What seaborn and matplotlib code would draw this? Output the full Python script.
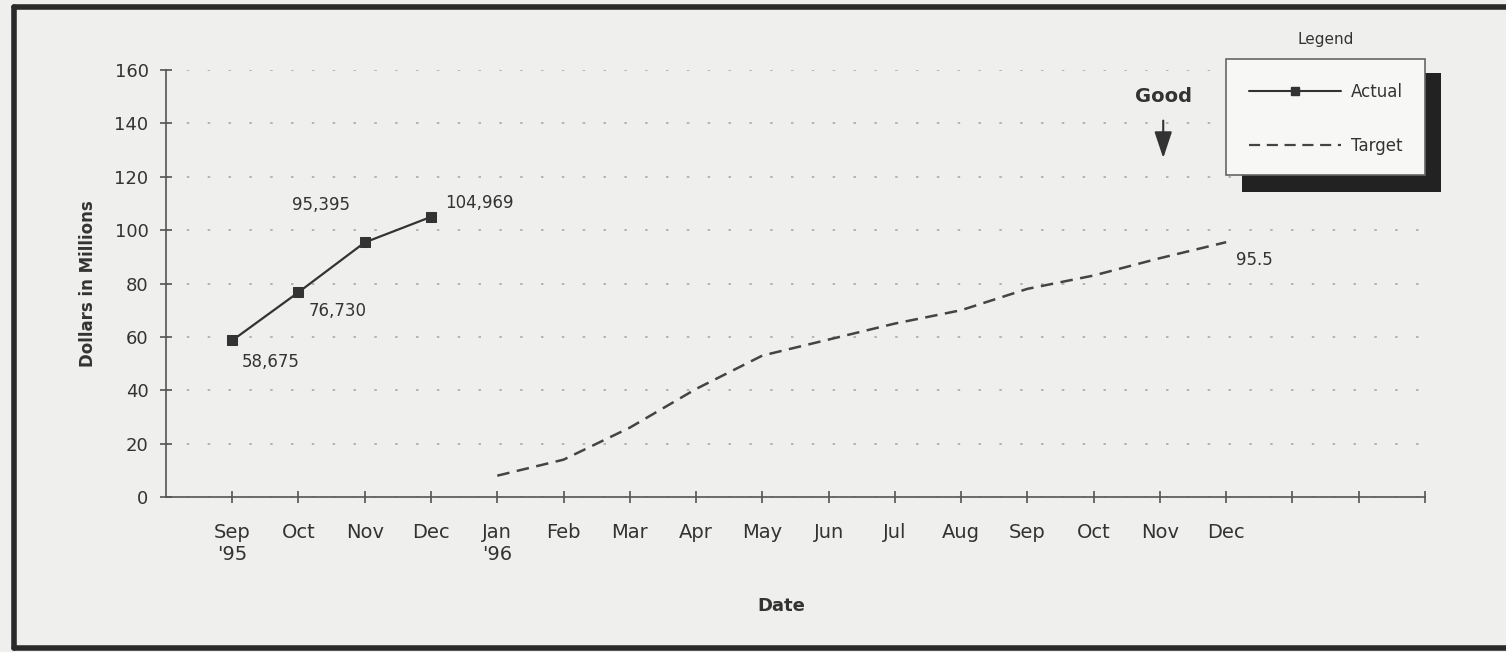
import matplotlib
matplotlib.use("Agg")
import matplotlib.pyplot as plt
import seaborn as sns
import pandas as pd
import numpy as np
from matplotlib.lines import Line2D
from matplotlib.patches import Rectangle

months = ["Sep\n'95", "Oct", "Nov", "Dec", "Jan\n'96", "Feb", "Mar", "Apr",
          "May", "Jun", "Jul", "Aug", "Sep", "Oct", "Nov", "Dec"]
n_slots = 19  # three empty ticks after the last month

actual = [58.675, 76.730, 95.395, 104.969]
actual_labels = ["58,675", "76,730", "95,395", "104,969"]
target = [8, 14, 26, 40.5, 53, 59, 65, 70, 78, 83, 89.5, 95.5]
target_start = 4  # target begins at Jan '96
yticks = [0, 20, 40, 60, 80, 100, 120, 140, 160]

df_actual = pd.DataFrame({"pos": np.arange(len(actual)), "value": actual})
df_target = pd.DataFrame({"pos": np.arange(len(target)) + target_start, "value": target})

bg = "#efefed"
ink = "#333333"

sns.set_style("white")
plt.rcParams["font.family"] = ["DejaVu Sans"]

fig = plt.figure(figsize=(15.06, 6.52), dpi=100, facecolor=bg)
ax = fig.add_axes([0.1102, 0.2377, 0.836, 0.6549], facecolor=bg)

sns.lineplot(data=df_actual, x="pos", y="value", ax=ax, color=ink, lw=1.6,
             marker="s", markersize=7, markeredgecolor=ink, legend=False)
sns.lineplot(data=df_target, x="pos", y="value", ax=ax, color="#444444", lw=1.8,
             linestyle=(0, (5, 3)), legend=False)

ax.set_xlim(-1, n_slots - 1)
ax.set_ylim(0, 160)
ax.set_yticks(yticks)
ax.set_xticks(np.arange(n_slots))
ax.set_xticklabels(months + [""] * (n_slots - len(months)))

for s in ["top", "right"]:
    ax.spines[s].set_visible(False)
for s in ["left", "bottom"]:
    ax.spines[s].set_color("#555555")
    ax.spines[s].set_linewidth(1.2)

ax.tick_params(axis="x", bottom=True, direction="inout", length=9, width=1.2,
               color="#555555", labelsize=14, labelcolor=ink, pad=14)
ax.tick_params(axis="y", left=True, direction="inout", length=9, width=1.2,
               color="#555555", labelsize=13, labelcolor=ink, pad=8)

ax.yaxis.grid(True, linestyle=(0, (1.5, 11)), color="#aaaaaa", lw=1.2)
ax.set_axisbelow(True)

ax.set_xlabel("Date", fontsize=13, fontweight="bold", color=ink)
ax.set_ylabel("Dollars in Millions", fontsize=12, fontweight="bold", color=ink)
ax.xaxis.set_label_coords(0.489, -0.235)
ax.yaxis.set_label_coords(-0.055, 0.5)

# value labels
offsets = [(10, -22), (10, -19), (-15, 37), (14, 14)]
aligns = ["left", "left", "right", "left"]
for i, (v, lab) in enumerate(zip(actual, actual_labels)):
    ax.annotate(lab, (i, v), xytext=offsets[i], textcoords="offset pixels",
                ha=aligns[i], va="center", fontsize=12, color=ink)
ax.annotate("95.5", (target_start + len(target) - 1, target[-1]), xytext=(10, -18),
            textcoords="offset pixels", ha="left", va="center", fontsize=12, color=ink)

# "Good" arrow
ax.annotate("Good", xy=(14.05, 127), xytext=(14.05, 150), ha="center", va="center",
            fontsize=14, fontweight="bold", color=ink,
            arrowprops=dict(arrowstyle="-|>,head_length=0.9,head_width=0.3", color=ink,
                            lw=1.5, mutation_scale=18, shrinkA=8, shrinkB=0))

# legend box with heavy drop shadow
fig.patches.append(Rectangle((0.8247, 0.7055), 0.1321, 0.1825, transform=fig.transFigure,
                             facecolor="#222222", edgecolor="none", zorder=1))
fig.patches.append(Rectangle((0.814, 0.7316), 0.1321, 0.1779, transform=fig.transFigure,
                             facecolor="#f7f7f5", edgecolor="#666666", lw=1.2, zorder=2))
fig.text(0.8805, 0.9387, "Legend", ha="center", va="center", fontsize=11, color=ink)
handles = [Line2D([], [], color=ink, lw=1.5, marker="s", markersize=6),
           Line2D([], [], color="#444444", lw=1.6, linestyle=(0, (5, 3)))]
leg = fig.legend(handles, ["Actual", "Target"], loc="center",
                 bbox_to_anchor=(0.8805, 0.8175), frameon=False, fontsize=12,
                 handlelength=5.5, labelspacing=2.2, handletextpad=0.6)
for t in leg.get_texts():
    t.set_color(ink)
leg.set_zorder(3)

# outer page frame
for xs, ys in [((0.0095, 0.0095), (0.006, 0.99)),
               ((0.0095, 1.0), (0.99, 0.99)),
               ((0.0095, 1.0), (0.006, 0.006))]:
    fig.lines.append(Line2D(xs, ys, transform=fig.transFigure, color="#2a2a2a", lw=4))

fig.savefig("out.png", dpi=100, facecolor=bg)
